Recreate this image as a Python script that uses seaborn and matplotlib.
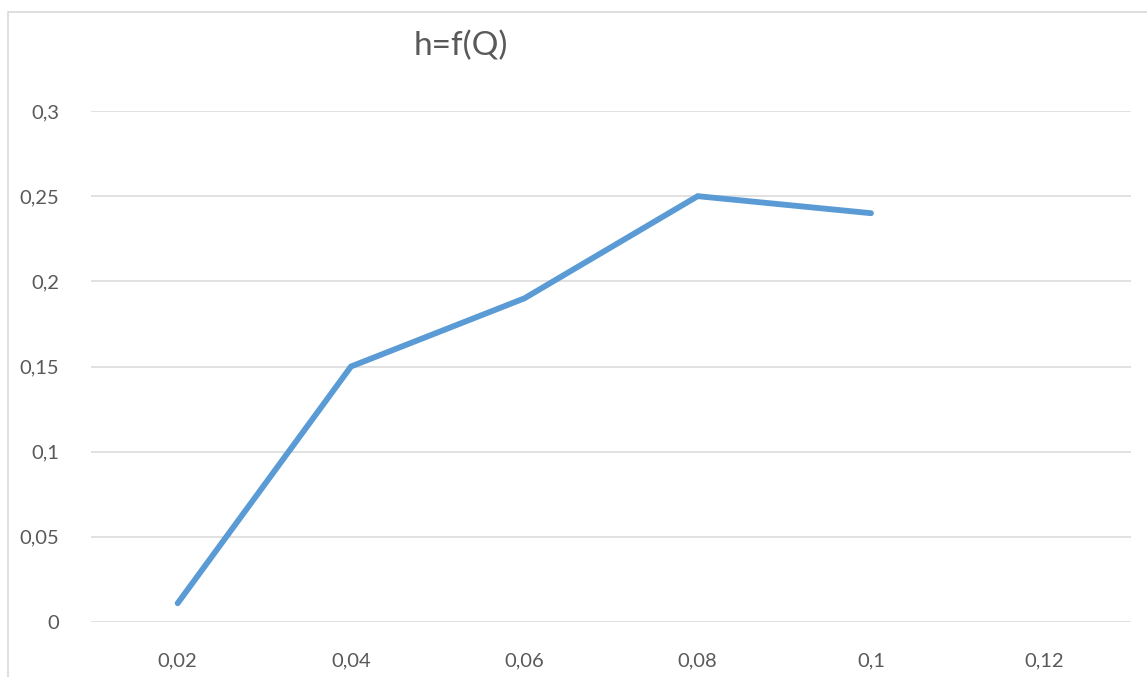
import matplotlib
matplotlib.use("Agg")
import matplotlib.pyplot as plt
from matplotlib.patches import Rectangle
import seaborn as sns
import pandas as pd

# Flow rate Q and head h
q_values = [0.02, 0.04, 0.06, 0.08, 0.10]
h_values = [0.011, 0.15, 0.19, 0.25, 0.24]
x_ticks = [0.02, 0.04, 0.06, 0.08, 0.10, 0.12]
x_tick_labels = ["0,02", "0,04", "0,06", "0,08", "0,1", "0,12"]
y_ticks = [0, 0.05, 0.10, 0.15, 0.20, 0.25, 0.30]
y_tick_labels = ["0", "0,05", "0,1", "0,15", "0,2", "0,25", "0,3"]
title = "h=f(Q)"

df = pd.DataFrame({"Q": q_values, "h": h_values})

sns.set_style("white")
plt.rcParams["font.family"] = ["Lato", "DejaVu Sans"]

W, H = 1147, 677
fig = plt.figure(figsize=(W / 100, H / 100), dpi=100)
ax = fig.add_axes([91 / W, 1 - 622 / H, (1131 - 91) / W, (622 - 111) / H])

# chart frame
fig.patches.append(Rectangle((8 / W, -0.1), 1.2, 1 - 12 / H + 0.1,
                             transform=fig.transFigure, fill=False,
                             edgecolor="#D9D9D9", linewidth=1.2, zorder=0))

for y in y_ticks:
    ax.axhline(y, color="#D9D9D9", linewidth=1.1, zorder=1)

sns.lineplot(data=df, x="Q", y="h", ax=ax, color="#5B9BD5", linewidth=4.2,
             solid_capstyle="round", solid_joinstyle="miter", zorder=3)

ax.set_xlim(0.01, 0.13)
ax.set_ylim(0, 0.3)
ax.set_xticks(x_ticks)
ax.set_xticklabels(x_tick_labels)
ax.set_yticks(y_ticks)
ax.set_yticklabels(y_tick_labels)
ax.tick_params(axis="both", length=0, labelsize=14.5, labelcolor="#595959")
ax.tick_params(axis="y", pad=23)
ax.tick_params(axis="x", pad=22)
ax.set_xlabel("")
ax.set_ylabel("")
for s in ax.spines.values():
    s.set_visible(False)
ax.patch.set_alpha(0)

fig.text(461 / W, 1 - 46 / H, title, ha="center", va="center",
         fontsize=24, color="#595959")

fig.savefig("out.png", dpi=100)
